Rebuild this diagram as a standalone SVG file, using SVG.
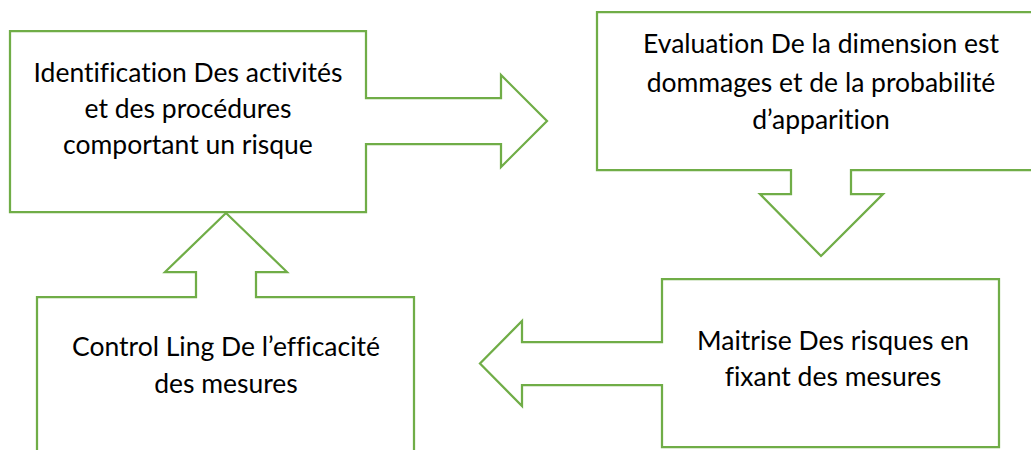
<svg xmlns="http://www.w3.org/2000/svg" width="1031" height="450" viewBox="0 0 1031 450">
  <style>
    .shape { fill: #ffffff; stroke: #70AD47; stroke-width: 2.25; stroke-linejoin: miter; }
    .label { font-family: Lato, "Open Sans", "Liberation Sans", sans-serif; font-size: 26.5px; fill: #000000; text-anchor: middle; font-variant-ligatures: none; }
  </style>
  <rect x="0" y="0" width="1031" height="450" fill="#ffffff"/>
  <g id="connectors"/>
  <g id="node-identification">
    <path class="shape" d="M10,31 H366 V98 H501 V75 L547,121 L501,167 V144 H366 V212 H10 Z"/>
    <text class="label" x="188" y="82">Identification Des activités</text>
    <text class="label" x="188" y="118">et des procédures</text>
    <text class="label" x="188" y="154">comportant un risque</text>
  </g>
  <g id="node-evaluation">
    <path class="shape" d="M597,12 H1045 V170 H851 V194 H883 L821,256 L760,194 H791 V170 H597 Z"/>
    <text class="label" x="821" y="53">Evaluation De la dimension est</text>
    <text class="label" x="821" y="92">dommages et de la probabilité</text>
    <text class="label" x="821" y="129">d’apparition</text>
  </g>
  <g id="node-maitrise">
    <path class="shape" d="M662,279 H999 V447 H662 V385 H522 V406 L480,363.5 L522,321 V342 H662 Z"/>
    <text class="label" x="833" y="350">Maitrise Des risques en</text>
    <text class="label" x="833" y="386">fixant des mesures</text>
  </g>
  <g id="node-control">
    <path class="shape" d="M37,297 H196 V272 H165 L226,213 L287,272 H256 V297 H414 V470 H37 Z"/>
    <text class="label" x="226" y="356">Control Ling De l’efficacité</text>
    <text class="label" x="226" y="393">des mesures</text>
  </g>
</svg>
